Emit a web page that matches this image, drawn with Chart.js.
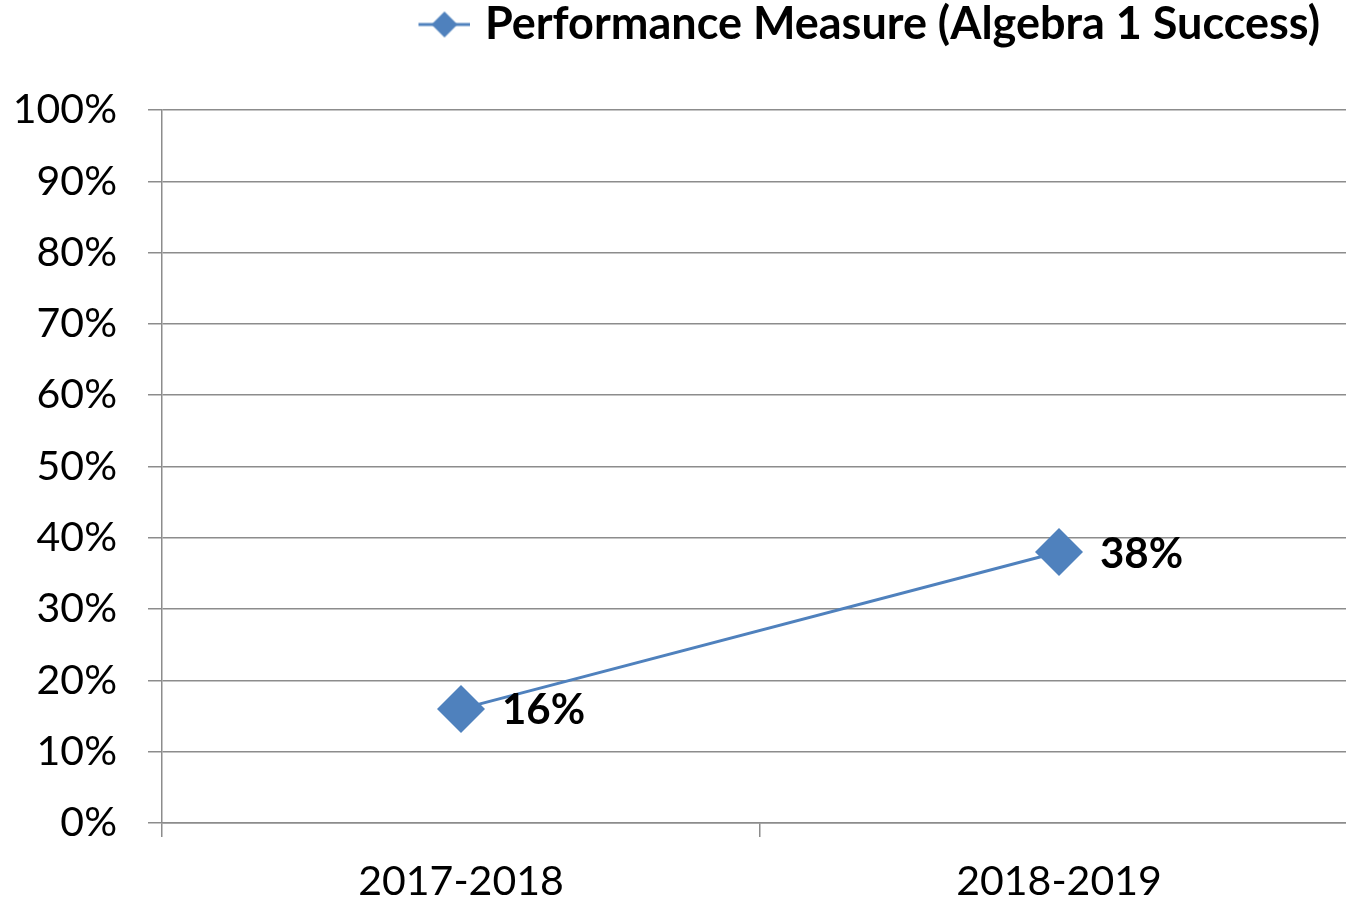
<!DOCTYPE html>
<html>
<head>
<meta charset="utf-8">
<script src="https://cdn.jsdelivr.net/npm/chart.js@4"></script>
<style>
  html, body { margin: 0; padding: 0; background: #fff; overflow: hidden; }
  #wrap { width: 1346px; height: 903px; overflow: hidden; }
</style>
</head>
<body>
<div id="wrap"><canvas id="myChart" width="1358" height="903"></canvas></div>
<script>
// chart data
const years = ['2017-2018', '2018-2019'];
const algebraSuccess = [0.16, 0.38];
const seriesName = 'Performance Measure (Algebra 1 Success)';

const blue = '#4F81BD';
const fontFam = 'Lato, "Open Sans", sans-serif';

// legend icon: line with diamond through it
function legendIcon() {
    const c = document.createElement('canvas');
    c.width = 64; c.height = 30;
    const g = c.getContext('2d');
    g.strokeStyle = blue;
    g.lineWidth = 3;
    g.beginPath(); g.moveTo(12, 15); g.lineTo(64, 15); g.stroke();
    g.fillStyle = blue;
    g.beginPath();
    g.moveTo(38, 2); g.lineTo(51, 15); g.lineTo(38, 28); g.lineTo(25, 15);
    g.closePath(); g.fill();
    return c;
}

// draws "16%" etc right of each point
const valueLabels = {
    id: 'valueLabels',
    afterDatasetsDraw(chart) {
        const ctx = chart.ctx;
        const meta = chart.getDatasetMeta(0);
        ctx.save();
        ctx.font = 'bold 42px ' + fontFam;
        ctx.fillStyle = '#000';
        ctx.textAlign = 'left';
        ctx.textBaseline = 'middle';
        meta.data.forEach((pt, i) => {
            const v = chart.data.datasets[0].data[i];
            ctx.fillText(Math.round(v * 100) + '%', pt.x + 41, pt.y + 2);
        });
        ctx.restore();
    }
};

function initChart() {
    const ctx = document.getElementById('myChart').getContext('2d');
    const myChart = new Chart(ctx, {
        type: 'line',
        data: {
            labels: years,
            datasets: [{
                label: seriesName,
                data: algebraSuccess,
                borderColor: blue,
                backgroundColor: blue,
                borderWidth: 3,
                pointStyle: 'rectRot',
                pointRadius: 24,
                pointHoverRadius: 24,
                pointBorderWidth: 0,
                pointBackgroundColor: blue
            }]
        },
        options: {
            responsive: false,
            animation: false,
            layout: { autoPadding: false, padding: { top: -36, right: 0, left: 0, bottom: 0 } },
            plugins: {
                tooltip: { enabled: false },
                legend: {
                    position: 'top',
                    align: 'end',
                    labels: {
                        usePointStyle: true,
                        pointStyle: legendIcon(),
                        pointStyleWidth: 48,
                        color: '#000',
                        font: { family: fontFam, size: 45, weight: 'bold' },
                        padding: 38
                    }
                },
                // empty spacer between legend and plot
                title: {
                    display: true,
                    text: '',
                    weight: 500,
                    font: { size: 1, lineHeight: 1 },
                    padding: { top: 0, bottom: 52 }
                }
            },
            scales: {
                x: {
                    offset: true,
                    grid: {
                        offset: true,
                        drawOnChartArea: false,
                        tickLength: 14,
                        color: '#8c8c8c',
                        lineWidth: 1.5
                    },
                    border: { color: '#8c8c8c', width: 1.5 },
                    ticks: {
                        color: '#000',
                        font: { family: fontFam, size: 41 },
                        padding: 20,
                        maxRotation: 0
                    },
                    afterFit(scale) { scale.height = 80; }
                },
                y: {
                    min: 0,
                    max: 1,
                    ticks: {
                        stepSize: 0.1,
                        color: '#000',
                        font: { family: fontFam, size: 41 },
                        padding: 31,
                        callback: v => Math.round(v * 100) + '%'
                    },
                    grid: {
                        tickLength: 14,
                        color: '#8c8c8c',
                        lineWidth: 1.5
                    },
                    border: { color: '#8c8c8c', width: 1.5 },
                    afterFit(scale) { scale.width = 162; }
                }
            }
        },
        plugins: [valueLabels]
    });
    return myChart;
}

initChart();
</script>
</body>
</html>
